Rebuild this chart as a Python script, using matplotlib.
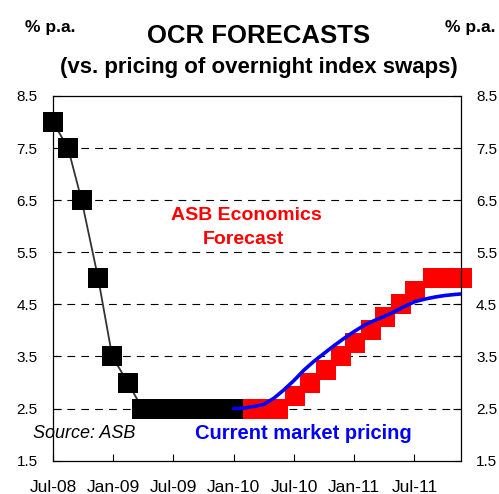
import matplotlib
matplotlib.use("Agg")
import matplotlib.pyplot as plt

plt.rcParams["font.family"] = ["Liberation Sans", "DejaVu Sans"]

# x positions are months after the first point (Jul-08)
actual_months = [0, 1.5, 2.85, 4.5, 5.9, 7.45, 8.9, 10.4, 11.9, 13.4, 14.9, 16.4, 17.9]
actual_ocr = [8.0, 7.5, 6.5, 5.0, 3.5, 3.0, 2.5, 2.5, 2.5, 2.5, 2.5, 2.5, 2.5]

forecast_months = [19.6, 21.05, 22.4, 24.1, 25.6, 27.2, 28.7, 30.1, 31.7,
                   33.1, 34.7, 36.1, 37.8, 39.3, 40.7]
forecast_ocr = [2.5, 2.5, 2.5, 2.75, 3.0, 3.25, 3.5, 3.75, 4.0,
                4.25, 4.5, 4.75, 5.0, 5.0, 5.0]

market_months = [18, 19, 20, 21, 22, 23, 24, 25, 26, 27, 28, 29, 30, 31,
                 32, 33, 34, 35, 36, 37, 38, 39, 40, 40.6]
market_ocr = [2.50, 2.51, 2.54, 2.58, 2.70, 2.86, 3.04, 3.24, 3.41, 3.56,
              3.71, 3.85, 3.98, 4.10, 4.19, 4.27, 4.36, 4.46, 4.55, 4.60,
              4.64, 4.67, 4.69, 4.70]

tick_months = [0, 6, 12, 18, 24, 30, 36]
tick_labels = ["Jul-08", "Jan-09", "Jul-09", "Jan-10", "Jul-10", "Jan-11", "Jul-11"]
y_ticks = [1.5, 2.5, 3.5, 4.5, 5.5, 6.5, 7.5, 8.5]

fig = plt.figure(figsize=(4.99, 4.94), dpi=100)
ax = fig.add_axes([0.1062, 0.0674, 0.8170, 0.7383])

# dashed gridlines
for v in y_ticks[1:-1]:
    ax.axhline(v, color="black", lw=0.8, linestyle=(0, (7, 5.5)), zorder=1)

ax.plot(forecast_months, forecast_ocr, linestyle="none", marker="s",
        markersize=13.7, color="red", markeredgewidth=0, zorder=2, clip_on=False)
ax.plot(actual_months, actual_ocr, color="#333333", lw=1.3, marker="s",
        markersize=13.7, markerfacecolor="black", markeredgecolor="black",
        markeredgewidth=0, zorder=3, clip_on=False)
ax.plot(market_months, market_ocr, color="blue", lw=2.6, zorder=4,
        solid_capstyle="round")

ax.set_xlim(0, 40.6)
ax.set_ylim(1.5, 8.5)
ax.set_xticks(tick_months)
ax.set_xticklabels(tick_labels)
ax.set_yticks(y_ticks)
ax.set_yticklabels([f"{v:.1f}" for v in y_ticks])

ax.tick_params(axis="x", direction="in", length=5, width=0.8, labelsize=12.5, pad=14)
ax.tick_params(axis="y", direction="in", length=6, width=0.8, labelsize=11,
               pad=11, right=True, labelright=True)
for s in ax.spines.values():
    s.set_linewidth(0.9)

ax.text(0.475, 0.672, "ASB Economics", transform=ax.transAxes,
        color="red", fontsize=14, fontweight="bold", ha="center", va="center")
ax.text(0.468, 0.606, "Forecast", transform=ax.transAxes,
        color="red", fontsize=14, fontweight="bold", ha="center", va="center")
ax.text(0.613, 0.075, "Current market pricing", transform=ax.transAxes,
        color="blue", fontsize=14.5, fontweight="bold", ha="center", va="center")
ax.text(-0.049, 0.075, "Source: ASB", transform=ax.transAxes,
        color="black", fontsize=13, fontstyle="italic", ha="left", va="center")

fig.text(0.101, 0.945, "% p.a.", fontsize=12.5, fontweight="bold", ha="center", va="center")
fig.text(0.942, 0.945, "% p.a.", fontsize=12.5, fontweight="bold", ha="center", va="center")
fig.text(0.518, 0.928, "OCR FORECASTS", fontsize=18.5, fontweight="bold",
         ha="center", va="center")
fig.text(0.518, 0.864, "(vs. pricing of overnight index swaps)", fontsize=16,
         fontweight="bold", ha="center", va="center")

fig.savefig("out.png", dpi=100)
